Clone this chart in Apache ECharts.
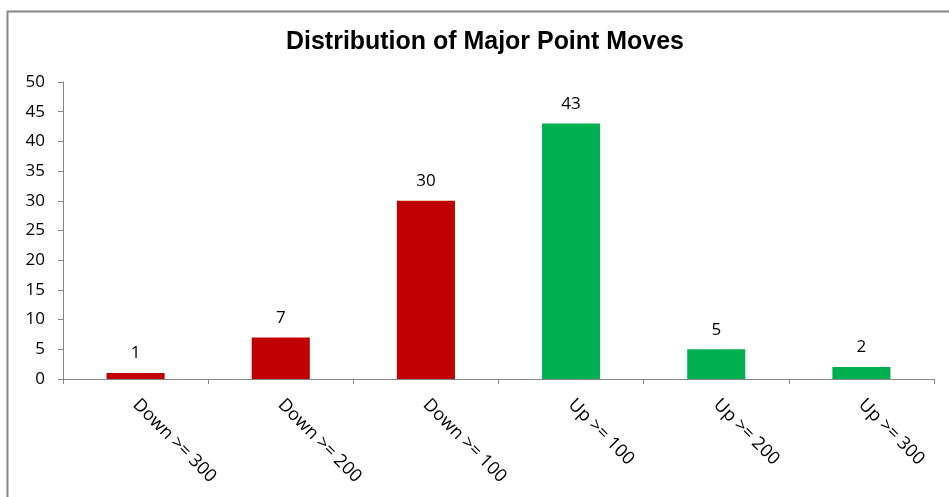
<!DOCTYPE html>
<html><head><meta charset="utf-8">
<script src="https://cdn.jsdelivr.net/npm/echarts@6/dist/echarts.min.js"></script>
<style>html,body{margin:0;padding:0;background:#fff}#c{width:949px;height:497px}</style>
</head><body><div id="c"></div>
<script>
const categories = ['Down >= 300', 'Down >= 200', 'Down >= 100', 'Up >= 100', 'Up >= 200', 'Up >= 300'];
const values = [1, 7, 30, 43, 5, 2];
const barColors = ['#C00000', '#C00000', '#C00000', '#00B050', '#00B050', '#00B050'];
const yTicks = { min: 0, max: 50, interval: 5 };
const titleText = 'Distribution of Major Point Moves';

const chart = echarts.init(document.getElementById('c'));
chart.setOption({
  animation: false,
  backgroundColor: '#fff',
  graphic: [{
    type: 'rect', left: 5, top: 9, silent: true,
    shape: { width: 1000, height: 600 },
    style: { fill: 'none', stroke: '#868686', lineWidth: 2 }
  }, {
    type: 'text', x: 485, y: 42, scaleX: 0.96, silent: true,
    style: { text: titleText, fontFamily: 'Liberation Sans', fontWeight: 'bold', fontSize: 26,
             fill: '#000', align: 'center', verticalAlign: 'middle' }
  }],
  grid: { left: 63, right: 15, top: 82, bottom: 118 },
  xAxis: {
    type: 'category', data: categories,
    axisLine: { lineStyle: { color: '#868686' } },
    axisTick: { show: true, length: 5, lineStyle: { color: '#868686' } },
    axisLabel: { rotate: -45, margin: 23, fontSize: 18, color: '#000', fontFamily: 'Open Sans' }
  },
  yAxis: {
    type: 'value', min: yTicks.min, max: yTicks.max, interval: yTicks.interval,
    axisLine: { show: true, lineStyle: { color: '#868686' } },
    axisTick: { show: true, length: 5, lineStyle: { color: '#868686' } },
    splitLine: { show: false },
    axisLabel: { fontSize: 17, color: '#000', margin: 18, fontFamily: 'Open Sans' }
  },
  series: [{
    type: 'bar', barWidth: '40%',
    data: values.map((v, i) => ({ value: v, itemStyle: { color: barColors[i] } })),
    label: { show: true, position: 'top', distance: 11, fontSize: 17, color: '#000', fontFamily: 'Open Sans' }
  }]
});
</script></body></html>
